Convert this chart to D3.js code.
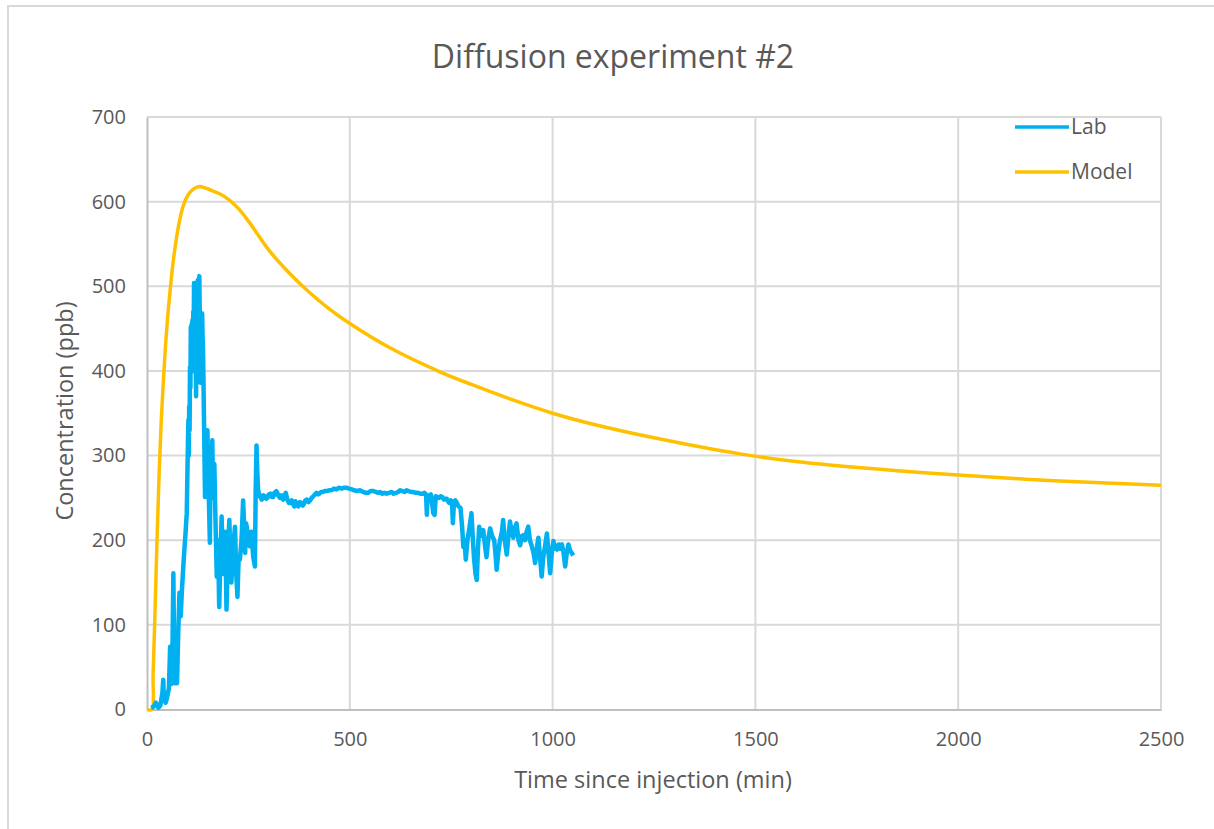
<!DOCTYPE html>
<html>
<head>
<meta charset="utf-8">
<script src="https://cdn.jsdelivr.net/npm/d3@7"></script>
<style>
  html, body { margin: 0; padding: 0; background: #ffffff; }
  svg { display: block; }
  text { font-family: "Open Sans", "Noto Sans", sans-serif; fill: #595959; }
</style>
</head>
<body>
<svg id="chart" width="1214" height="829"></svg>
<script>
// Measured concentration (lab), minutes since injection
const labTime = [
  10, 16, 22, 28, 33, 38, 40, 42, 46, 50,
  54, 57, 60, 63, 65, 67, 69, 72, 74, 77,
  80, 83, 86, 90, 93, 95, 98, 100, 102, 103,
  104, 105, 106, 107, 108, 109, 110, 111, 112, 113,
  114, 115, 116, 117, 118, 119, 120, 121, 122, 123,
  124, 125, 126, 127, 128, 129, 130, 131, 132, 133,
  134, 135, 136, 137, 138, 139, 140, 141, 143, 145,
  147, 149, 151, 153, 155, 157, 159, 161, 163, 166,
  169, 172, 175, 178, 181, 184, 187, 190, 193, 196,
  200, 203, 206, 208, 212, 217, 220, 223, 226, 229,
  233, 237, 240, 242, 244, 246, 249, 253, 257, 262,
  266, 268, 270, 272, 274, 278, 283, 287, 290, 294,
  297, 300, 304, 308, 311, 314, 316, 319, 321, 325,
  328, 332, 336, 339, 342, 345, 348, 350, 353, 357,
  360, 363, 366, 370, 373, 377, 380, 384, 387, 390,
  394, 398, 402, 406, 410, 414, 418, 422, 425, 429,
  433, 438, 443, 449, 455, 461, 467, 473, 480, 486,
  492, 498, 505, 511, 518, 525, 533, 539, 545, 551,
  558, 564, 570, 575, 580, 585, 591, 597, 603, 608,
  614, 619, 624, 630, 635, 640, 645, 651, 657, 662,
  668, 674, 680, 684, 688, 690, 692, 696, 700, 706,
  709, 712, 716, 720, 724, 728, 732, 735, 739, 742,
  745, 749, 752, 754, 757, 760, 763, 768, 773, 777,
  780, 783, 786, 790, 795, 800, 803, 806, 810, 813,
  816, 819, 824, 829, 833, 837, 841, 846, 851, 856,
  859, 862, 866, 870, 875, 878, 882, 887, 891, 895,
  899, 903, 907, 911, 916, 920, 924, 928, 932, 936,
  940, 944, 948, 953, 957, 961, 965, 969, 973, 977,
  982, 986, 990, 994, 998, 1002, 1007, 1011, 1015, 1019,
  1023, 1027, 1031, 1035, 1039, 1043, 1047, 1051];
const labConc = [
  2, 3, 8, 2, 5, 20, 35, 12, 8, 15,
  25, 74, 30, 80, 161, 60, 31, 40, 31, 90,
  138, 110, 140, 173, 195, 208, 232, 290, 342, 300,
  358, 330, 405, 380, 452, 410, 455, 430, 460, 400,
  470, 440, 504, 470, 500, 450, 420, 370, 440, 480,
  460, 507, 480, 470, 505, 512, 470, 440, 386, 410,
  420, 460, 468, 440, 430, 397, 360, 327, 251, 327,
  300, 330, 270, 240, 197, 303, 280, 318, 250, 290,
  220, 157, 200, 121, 180, 228, 170, 160, 210, 118,
  190, 224, 170, 150, 190, 216, 160, 133, 180, 177,
  200, 247, 210, 185, 220, 216, 200, 193, 210, 180,
  169, 260, 312, 280, 259, 252, 248, 253, 252, 249,
  250, 254, 255, 251, 251, 256, 254, 258, 256, 252,
  250, 253, 248, 252, 256, 250, 246, 244, 244, 247,
  243, 240, 246, 242, 240, 245, 244, 241, 243, 247,
  248, 245, 247, 250, 252, 254, 256, 254, 255, 257,
  257, 258, 258, 259, 259, 261, 260, 262, 261, 262,
  262, 261, 260, 259, 258, 259, 257, 256, 256, 258,
  258, 257, 256, 257, 255, 256, 255, 256, 257, 255,
  256, 257, 259, 258, 257, 259, 258, 257, 257, 256,
  256, 255, 255, 256, 254, 230, 253, 252, 254, 232,
  230, 252, 251, 250, 252, 251, 248, 249, 249, 246,
  244, 247, 245, 220, 246, 247, 245, 240, 238, 215,
  192, 200, 177, 200, 215, 232, 205, 180, 160, 153,
  190, 216, 205, 212, 195, 180, 200, 214, 205, 200,
  185, 165, 185, 199, 210, 224, 200, 183, 205, 222,
  210, 203, 215, 220, 200, 194, 205, 206, 200, 210,
  216, 200, 194, 185, 173, 190, 203, 180, 157, 180,
  195, 208, 185, 161, 185, 199, 190, 189, 195, 190,
  195, 185, 169, 185, 195, 188, 185, 182];

// Model prediction
const modelTime = [0, 12, 15, 20, 25, 30, 35, 40, 45, 50,
  57, 64, 72, 80, 90, 100, 115, 130, 160, 180,
  200, 225, 250, 275, 300, 350, 400, 450, 500, 600,
  722, 800, 900, 1000, 1100, 1250, 1462, 1600, 1800, 2000,
  2250, 2500];
const modelConc = [0, 0, 40, 120, 205, 280, 340, 385, 425, 458,
  495, 527, 555, 577, 596, 607, 615, 618, 613, 609,
  603, 592, 577, 560, 543, 516, 493, 473, 456, 427,
  399, 384, 366, 350, 337, 321, 302, 293, 284, 277,
  270, 265];

const xTicks = [0, 500, 1000, 1500, 2000, 2500];
const yTicks = [0, 100, 200, 300, 400, 500, 600, 700];

const seriesNames = ["Lab", "Model"];
const seriesColors = ["#00B0F0", "#FFC000"];

const svg = d3.select("#chart");

// chart frame
svg.append("rect")
  .attr("x", 8).attr("y", 6)
  .attr("width", 1240).attr("height", 860)
  .attr("fill", "none").attr("stroke", "#d9d9d9").attr("stroke-width", 2);

const x = d3.scaleLinear().domain([0, 2500]).range([147, 1161]);
const y = d3.scaleLinear().domain([0, 700]).range([709.5, 117]);

// gridlines
const grid = svg.append("g");
grid.selectAll("line.h").data(yTicks.filter(d => d > 0)).join("line")
  .attr("x1", x(0)).attr("x2", x(2500))
  .attr("y1", d => y(d)).attr("y2", d => y(d))
  .attr("stroke", "#d9d9d9").attr("stroke-width", 2);
grid.selectAll("line.v").data(xTicks.filter(d => d > 0)).join("line")
  .attr("y1", y(0)).attr("y2", y(700))
  .attr("x1", d => x(d)).attr("x2", d => x(d))
  .attr("stroke", "#d9d9d9").attr("stroke-width", 2);

// axes
const xAxis = d3.axisBottom(x).tickValues(xTicks).tickFormat(d3.format("d")).tickSize(0).tickPadding(22);
const yAxis = d3.axisLeft(y).tickValues(yTicks).tickFormat(d3.format("d")).tickSize(0).tickPadding(21);

const gx = svg.append("g").attr("transform", `translate(0,${y(0)})`).call(xAxis);
const gy = svg.append("g").attr("transform", `translate(${x(0)},0)`).call(yAxis);
[gx, gy].forEach(g => {
  g.select(".domain").attr("stroke", "#bfbfbf").attr("stroke-width", 2);
  g.selectAll("text").attr("font-size", 20).attr("fill", "#595959")
    .attr("font-family", '"Open Sans", sans-serif');
});

// series
const labData = labTime.map((t, i) => [t, labConc[i]]);
const modelData = modelTime.map((t, i) => [t, modelConc[i]]);

svg.append("path")
  .datum(modelData)
  .attr("fill", "none").attr("stroke", seriesColors[1]).attr("stroke-width", 3.5)
  .attr("stroke-linejoin", "round")
  .attr("d", d3.line().x(d => x(d[0])).y(d => y(d[1])).curve(d3.curveCatmullRom.alpha(0.5)));

svg.append("path")
  .datum(labData)
  .attr("fill", "none").attr("stroke", seriesColors[0]).attr("stroke-width", 4.5)
  .attr("stroke-linejoin", "round")
  .attr("d", d3.line().x(d => x(d[0])).y(d => y(d[1])));

// legend
const legend = svg.append("g");
seriesNames.forEach((name, i) => {
  const ly = 127 + i * 45;
  legend.append("line")
    .attr("x1", 1015).attr("x2", 1069).attr("y1", ly).attr("y2", ly)
    .attr("stroke", seriesColors[i]).attr("stroke-width", 3.5);
  legend.append("text")
    .attr("x", 1071).attr("y", ly).attr("dy", "0.35em")
    .attr("font-size", 21).text(name);
});

// titles
svg.append("text")
  .attr("x", 613).attr("y", 57).attr("dy", "0.35em")
  .attr("text-anchor", "middle").attr("font-size", 32)
  .text("Diffusion experiment #2");

svg.append("text")
  .attr("x", 653).attr("y", 780).attr("dy", "0.35em")
  .attr("text-anchor", "middle").attr("font-size", 23.5)
  .text("Time since injection (min)");

svg.append("text")
  .attr("transform", "translate(65,411) rotate(-90)")
  .attr("dy", "0.35em")
  .attr("text-anchor", "middle").attr("font-size", 23.5)
  .text("Concentration (ppb)");
</script>
</body>
</html>
